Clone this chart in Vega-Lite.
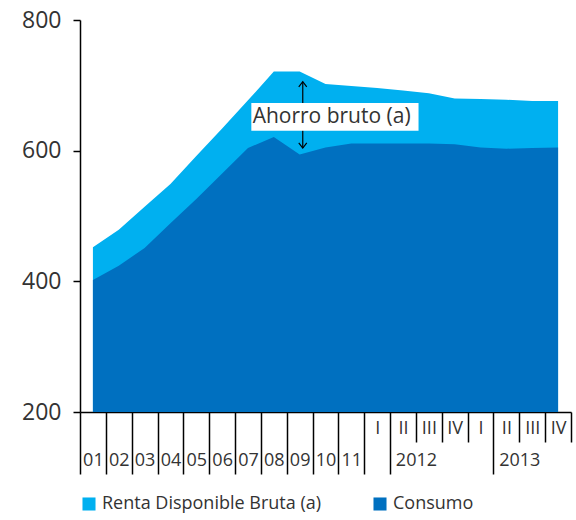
{
  "$schema": "https://vega.github.io/schema/vega-lite/v6.json",
  "width": 491,
  "height": 392,
  "autosize": {"type": "none"},
  "padding": {"left": 80, "top": 20, "right": 5, "bottom": 108},
  "background": "white",
  "config": {"font": "Open Sans", "view": {"stroke": null}},
  "datasets": {
    "serie": [
      {"periodo": "01", "serie": "Renta Disponible Bruta (a)", "valor": 452},
      {"periodo": "02", "serie": "Renta Disponible Bruta (a)", "valor": 479},
      {"periodo": "03", "serie": "Renta Disponible Bruta (a)", "valor": 514},
      {"periodo": "04", "serie": "Renta Disponible Bruta (a)", "valor": 549},
      {"periodo": "05", "serie": "Renta Disponible Bruta (a)", "valor": 592},
      {"periodo": "06", "serie": "Renta Disponible Bruta (a)", "valor": 634},
      {"periodo": "07", "serie": "Renta Disponible Bruta (a)", "valor": 677},
      {"periodo": "08", "serie": "Renta Disponible Bruta (a)", "valor": 721},
      {"periodo": "09", "serie": "Renta Disponible Bruta (a)", "valor": 721},
      {"periodo": "10", "serie": "Renta Disponible Bruta (a)", "valor": 702},
      {"periodo": "11", "serie": "Renta Disponible Bruta (a)", "valor": 699},
      {"periodo": "2012 I", "serie": "Renta Disponible Bruta (a)", "valor": 696},
      {"periodo": "2012 II", "serie": "Renta Disponible Bruta (a)", "valor": 692},
      {"periodo": "2012 III", "serie": "Renta Disponible Bruta (a)", "valor": 688},
      {"periodo": "2012 IV", "serie": "Renta Disponible Bruta (a)", "valor": 680},
      {"periodo": "2013 I", "serie": "Renta Disponible Bruta (a)", "valor": 679},
      {"periodo": "2013 II", "serie": "Renta Disponible Bruta (a)", "valor": 678},
      {"periodo": "2013 III", "serie": "Renta Disponible Bruta (a)", "valor": 676},
      {"periodo": "2013 IV", "serie": "Renta Disponible Bruta (a)", "valor": 676},
      {"periodo": "01", "serie": "Consumo", "valor": 402},
      {"periodo": "02", "serie": "Consumo", "valor": 424},
      {"periodo": "03", "serie": "Consumo", "valor": 451},
      {"periodo": "04", "serie": "Consumo", "valor": 489},
      {"periodo": "05", "serie": "Consumo", "valor": 526},
      {"periodo": "06", "serie": "Consumo", "valor": 565},
      {"periodo": "07", "serie": "Consumo", "valor": 604},
      {"periodo": "08", "serie": "Consumo", "valor": 621},
      {"periodo": "09", "serie": "Consumo", "valor": 594},
      {"periodo": "10", "serie": "Consumo", "valor": 605},
      {"periodo": "11", "serie": "Consumo", "valor": 611},
      {"periodo": "2012 I", "serie": "Consumo", "valor": 611},
      {"periodo": "2012 II", "serie": "Consumo", "valor": 611},
      {"periodo": "2012 III", "serie": "Consumo", "valor": 611},
      {"periodo": "2012 IV", "serie": "Consumo", "valor": 610},
      {"periodo": "2013 I", "serie": "Consumo", "valor": 605},
      {"periodo": "2013 II", "serie": "Consumo", "valor": 603},
      {"periodo": "2013 III", "serie": "Consumo", "valor": 604},
      {"periodo": "2013 IV", "serie": "Consumo", "valor": 605}
    ],
    "nota": [
      {"texto": "Ahorro bruto (a)"}
    ]
  },
  "layer": [
    {
      "data": {"name": "serie"},
      "mark": {"type": "area", "opacity": 1},
      "encoding": {
        "x": {
          "field": "periodo",
          "type": "nominal",
          "sort": null,
          "scale": {"type": "band", "paddingInner": 0, "paddingOuter": 0},
          "axis": {
            "title": null,
            "orient": "bottom",
            "tickBand": "extent",
            "domainColor": "black",
            "domainWidth": 1.5,
            "tickColor": "black",
            "tickWidth": 1.5,
            "tickSize": {"condition": {"test": "indexof(['2012 II','2012 III','2012 IV','2013 II','2013 III','2013 IV'], datum.value) >= 0", "value": 30}, "value": 62},
            "labelPadding": {"condition": {"test": "indexof(['2012 I','2013 I'], datum.value) >= 0", "value": -46}, "value": -14},
            "labelBaseline": "middle",
            "labelAngle": 0,
            "labelFontSize": 18,
            "labelColor": "#333333",
            "labelOverlap": false,
            "labelBound": false,
            "labelExpr": "isString(datum.value) ? (indexof(datum.value, ' ') > 0 ? substring(datum.value, indexof(datum.value, ' ') + 1) : datum.value) : ''"
          }
        },
        "y": {
          "field": "valor",
          "type": "quantitative",
          "stack": null,
          "scale": {"domain": [200, 800], "nice": false, "zero": false},
          "axis": {
            "title": null,
            "values": [200, 400, 600, 800],
            "grid": false,
            "domainColor": "black",
            "domainWidth": 1.5,
            "tickColor": "black",
            "tickWidth": 1.5,
            "tickSize": 7,
            "labelPadding": 12,
            "labelFontSize": 23,
            "labelColor": "#333333"
          }
        },
        "y2": {"datum": 200},
        "color": {
          "field": "serie",
          "type": "nominal",
          "sort": null,
          "scale": {"domain": ["Renta Disponible Bruta (a)", "Consumo"], "range": ["#00B0F0", "#0070C0"]},
          "legend": {
            "title": null,
            "orient": "bottom",
            "direction": "horizontal",
            "symbolType": "square",
            "symbolSize": 170,
            "symbolOpacity": 1,
            "symbolStrokeWidth": 0,
            "symbolOffset": 0,
            "labelOffset": 4,
            "labelFontSize": 18,
            "labelColor": "#333333",
            "labelLimit": 400,
            "columnPadding": 49,
            "offset": 20
          }
        }
      }
    },
    {
      "data": {"name": "nota"},
      "layer": [
        {
          "mark": {"type": "rule", "color": "black", "strokeWidth": 1.2},
          "encoding": {
            "x": {
              "datum": 8.62,
              "type": "quantitative",
              "scale": {"domain": [0, 19], "nice": false, "zero": false},
              "axis": {
                "title": null,
                "orient": "bottom",
                "values": [13, 17],
                "labelExpr": "datum.value == 13 ? '2012' : '2013'",
                "ticks": false,
                "tickSize": 0,
                "domain": false,
                "grid": false,
                "labelPadding": 48,
                "labelBaseline": "middle",
                "labelFontSize": 18,
                "labelColor": "#333333"
              }
            },
            "y": {"datum": 604, "type": "quantitative"},
            "y2": {"datum": 705.5}
          }
        },
        {
          "mark": {"type": "point", "shape": "M-1,1.3L0,0L1,1.3", "filled": false, "stroke": "black", "strokeWidth": 1.2, "size": 64, "opacity": 1},
          "encoding": {
            "x": {"datum": 8.62, "type": "quantitative"},
            "y": {"datum": 705.5, "type": "quantitative"}
          }
        },
        {
          "mark": {"type": "point", "shape": "M-1,-1.3L0,0L1,-1.3", "filled": false, "stroke": "black", "strokeWidth": 1.2, "size": 64, "opacity": 1},
          "encoding": {
            "x": {"datum": 8.62, "type": "quantitative"},
            "y": {"datum": 604, "type": "quantitative"}
          }
        },
        {
          "mark": {"type": "rect", "fill": "white"},
          "encoding": {
            "x": {"datum": 6.63, "type": "quantitative"},
            "x2": {"datum": 13.1},
            "y": {"datum": 630.5, "type": "quantitative"},
            "y2": {"datum": 673}
          }
        },
        {
          "mark": {"type": "text", "align": "left", "baseline": "middle", "fontSize": 21, "color": "#333333"},
          "encoding": {
            "x": {"datum": 6.68, "type": "quantitative"},
            "y": {"datum": 652, "type": "quantitative"},
            "text": {"field": "texto"}
          }
        }
      ]
    }
  ],
  "resolve": {"scale": {"x": "independent"}, "axis": {"x": "independent"}}
}
